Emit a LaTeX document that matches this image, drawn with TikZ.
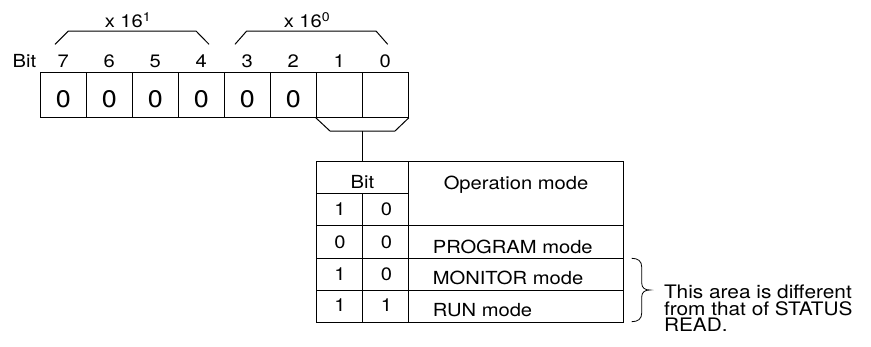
\documentclass[tikz,border=0pt]{standalone}
\usepackage{fontspec}
\setmainfont[FakeStretch=1.12]{TeX Gyre Heros}
\begin{document}
\begin{tikzpicture}[x=1pt,y=-1pt,line width=1pt,
  txt/.style={font=\fontsize{18}{18}\selectfont,inner sep=0pt,anchor=base},
  big/.style={font=\fontsize{24}{24}\selectfont,inner sep=0pt,anchor=base},
  cellbox/.style={draw,minimum width=46pt,minimum height=45pt,inner sep=0pt},
  modetxt/.style={txt,anchor=base west}]
\useasboundingbox (0,0) rectangle (871,346);
% bit register
\node[txt] (bitlbl) at (24.5,67.5) {Bit};
\foreach \i/\b/\v in {0/7/0,1/6/0,2/5/0,3/4/0,4/3/0,5/2/0,6/1/,7/0/} {
  \node[cellbox] (c\b) at ({63.3+46*\i},94.8) {};
  \node[big] (v\b) at ({63.3+46*\i},107.5) {\v};
  \node[txt] (n\b) at ({63.3+46*\i},67.5) {\b};
}
% upper brackets
\draw (55,44.3) -- (68.3,31) -- (196,31) -- (209,44.3);
\draw (235,44.3) -- (246.7,31) -- (376,31) -- (387.7,44.3);
\node[txt] (hx1) at (128,27.3) {x 16\textsuperscript{1}};
\node[txt] (hx0) at (307,27.3) {x 16\textsuperscript{0}};
% lower bracket
\draw (c1.south west) -- (330,131) coordinate (bl) -- (395,131) coordinate (br) -- (c0.south east);
\coordinate (brk) at (362.3,131);
% table
\node[draw,minimum width=307.3pt,minimum height=161pt,inner sep=0pt,anchor=north west] (tbl) at (316,161) {};
\draw (brk) -- (brk |- tbl.north);
\draw (408.7,161) -- (408.7,322);
\draw (362.5,193) -- (362.5,322);
\draw (316,193) -- (408.7,193);
\draw (316,225.5) -- (623.3,225.5);
\draw (316,258) -- (623.3,258);
\draw (316,290.2) -- (623.3,290.2);
\node[txt] (tbit) at (362.5,188.3) {Bit};
\node[txt] (tmode) at (516,189) {Operation mode};
\node[txt] (h1) at (340,215.7) {1};
\node[txt] (h0) at (386.5,215.7) {0};
\node[txt] (a1) at (340,248.5) {0};
\node[txt] (a0) at (386.5,248.5) {0};
\node[txt] (b1) at (340,280.3) {1};
\node[txt] (b0) at (386.5,280.3) {0};
\node[txt] (d1) at (340,311.8) {1};
\node[txt] (d0) at (386.5,311.8) {1};
\node[modetxt] (mprog) at (432.3,253) {PROGRAM mode};
\node[modetxt] (mmon) at (432.3,284.5) {MONITOR mode};
\node[modetxt] (mrun) at (432.3,316) {RUN mode};
% brace
\draw[line width=0.8pt] (631.7,258.3) .. controls (638,258.3) and (641.7,261) .. (641.7,267) -- (641.7,283) .. controls (641.7,288) and (645,290) .. (650,290) .. controls (645,290) and (641.7,292) .. (641.7,297) -- (641.7,313) .. controls (641.7,319) and (638,321.7) .. (631.7,321.7);
\node[font=\fontsize{18.6}{16.2}\selectfont,inner sep=0pt,align=left,anchor=north west] (note) at (663.5,284.8) {This area is different\\from that of STATUS\\READ.};
\end{tikzpicture}
\end{document}
